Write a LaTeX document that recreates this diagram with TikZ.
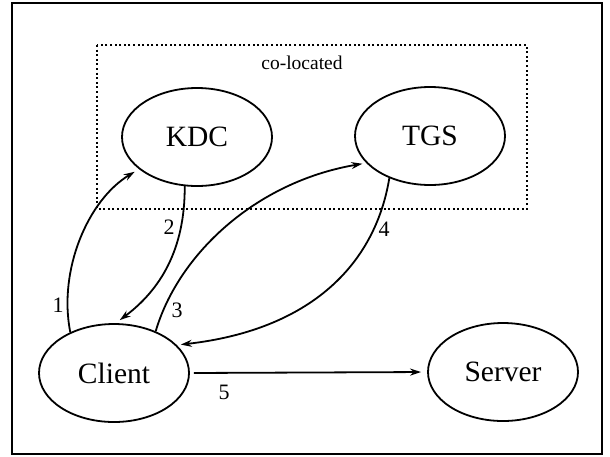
\documentclass[tikz,border=0pt]{standalone}
\usepackage{fontspec}
\setmainfont{Liberation Serif}
\usetikzlibrary{shapes.geometric,arrows.meta}

\tikzset{
  party/.style={draw, ellipse, line width=1.8pt, minimum width=150pt,
                minimum height=98pt, inner sep=0pt, font=\fontsize{29.5}{30}\selectfont},
  msg/.style={line width=1.8pt, -{Stealth[length=11pt,width=7pt]}},
  stepnum/.style={anchor=base, inner sep=0pt, font=\fontsize{22}{24}\selectfont},
}

\begin{document}
\begin{tikzpicture}[x=1pt,y=-1pt]
  \useasboundingbox (0,0) rectangle (610,456);

  % outer frame
  \draw[line width=2.8pt] (12,3) rectangle (602,454);

  % KDC and TGS share one host
  \draw[line width=1.9pt, dash pattern=on 2pt off 2.6pt] (97,45) rectangle (527,209);
  \node[anchor=base, inner sep=0pt, font=\fontsize{19.5}{21}\selectfont] (coloc) at (302,69) {co-located};

  \node[party] (kdc)    at (197,137) {KDC};
  \node[party] (tgs)    at (430,136) {TGS};
  \node[party] (client) at (114,373) {Client};
  \node[party] (server) at (503,372) {Server};

  % 1: client asks the KDC
  \draw[msg, shorten >=5pt] (client.137) .. controls (58,270) and (88,200) .. (kdc.209);
  % 2: KDC answers the client
  \draw[msg, shorten >=5pt] (kdc.256) .. controls (185,250) and (160,290) .. (client.88);
  % 3: client asks the TGS
  \draw[msg, shorten >=4pt] (client.45) .. controls (178,255) and (255,182) .. (tgs.203);
  % 4: TGS answers the client
  \draw[msg, shorten >=4pt] (tgs.226) .. controls (375,265) and (310,330) .. (client.24);
  % 5: client contacts the server
  \draw[msg, shorten <=4pt, shorten >=6pt] (client.east) -- (server.west);

  \node[stepnum] (n1) at (58,312) {1};
  \node[stepnum] (n2) at (169,234) {2};
  \node[stepnum] (n3) at (177,317) {3};
  \node[stepnum] (n4) at (384,236) {4};
  \node[stepnum] (n5) at (224,399) {5};
\end{tikzpicture}
\end{document}
